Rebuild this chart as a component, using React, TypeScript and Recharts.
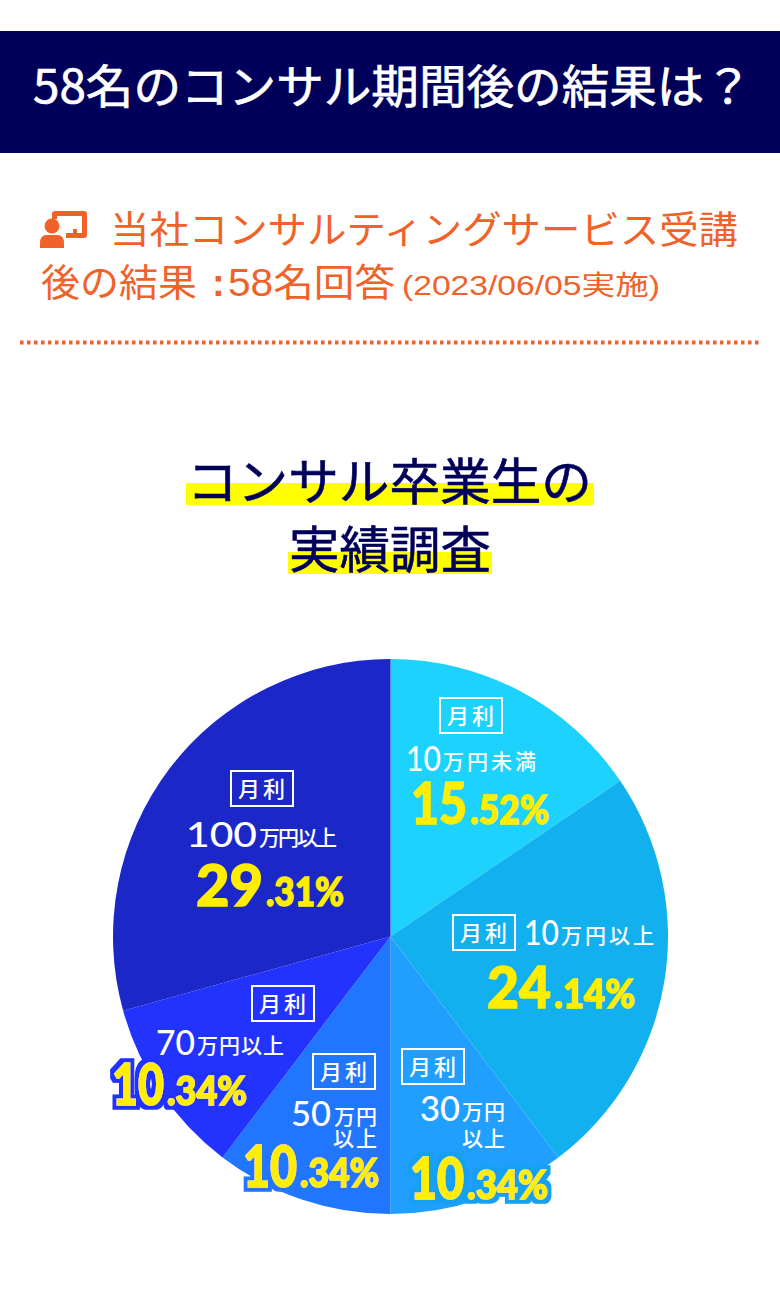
import React from "react";
import { PieChart, Pie, Cell } from "recharts";

const CATEGORIES = ["10万円未満", "10万円以上", "30万円以上", "50万円以上", "70万円以上", "100万円以上"];
const SHARES = [15.52, 24.14, 10.34, 10.34, 10.34, 29.31];
const COLORS = ["#1DD2FD", "#12B0EF", "#209FFF", "#2176FE", "#2333FE", "#1C27C8"];
const AMOUNT_NUMBERS = ["10", "10", "30", "50", "70", "100"];
const AMOUNT_UNITS = ["万円未満", "万円以上", "万円", "万円", "万円以上", "万円以上"];
const AMOUNT_SECOND = ["", "", "以上", "以上", "", ""];
const OUTLINES = ["none", "none", "#12A0F0", "#2176FE", "#2333FE", "none"];

const JP = "'Noto Sans CJK JP', sans-serif";
const MIX = "'Liberation Sans', 'Noto Sans CJK JP', sans-serif";
const NUM = "Lato, Inter, sans-serif";
const ORANGE = "#F0622A";
const NAVY = "#00005A";
const YELLOW = "#FFEE00";

const pieData = CATEGORIES.map((name, i) => ({ name, value: SHARES[i] }));

const LAYOUT = [
  { box: [440, 698], num: [406, 771, 441], unit: [443, 536], second: null, pct: [411, 824, 549, 56] },
  { box: [453, 915], num: [524, 945, 559], unit: [561, 654], second: null, pct: [487, 1008, 635, 64] },
  { box: [402, 1049], num: [420, 1121, 460], unit: [462, 505], second: [462, 505, 1146], pct: [410, 1199, 548, 54] },
  { box: [313, 1054], num: [291, 1126, 331], unit: [334, 377], second: [333, 377, 1146], pct: [243, 1187, 379, 54] },
  { box: [252, 986], num: [156, 1055, 195], unit: [197, 284], second: null, pct: [112, 1105, 247, 52] },
  { box: [231, 771], num: [186, 847, 257], unit: [259, 337], second: null, pct: [196, 906, 344, 67] },
];

function Label({ i }: { i: number }) {
  const l = LAYOUT[i];
  const [whole, frac] = SHARES[i].toFixed(2).split(".");
  const bigW = l.pct[3];
  const outline = OUTLINES[i];
  const filter = outline === "none" ? undefined : `url(#outline-${i})`;
  return (
    <g>
      {outline !== "none" && (
        <filter id={`outline-${i}`} x="-20%" y="-20%" width="140%" height="140%">
          <feMorphology in="SourceAlpha" operator="dilate" radius={4} result="wide" />
          <feFlood floodColor={outline} />
          <feComposite in2="wide" operator="in" result="edge" />
          <feMerge>
            <feMergeNode in="edge" />
            <feMergeNode in="SourceGraphic" />
          </feMerge>
        </filter>
      )}
      <rect x={l.box[0]} y={l.box[1]} width={62} height={35} fill="none" stroke="#fff" strokeWidth={2} />
      <text x={l.box[0] + 32} y={l.box[1] + 26} textAnchor="middle" fontFamily={JP} fontSize={22} fontWeight={500} letterSpacing={3} fill="#fff">
        月利
      </text>
      <text x={l.num[0]} y={l.num[1]} fontFamily={NUM} fontSize={34} fontWeight={500} fill="#fff"
        textLength={l.num[2] - l.num[0]} lengthAdjust="spacingAndGlyphs">
        {AMOUNT_NUMBERS[i]}
      </text>
      <text x={l.unit[0]} y={l.num[1] - 2} fontFamily={JP} fontSize={21} fontWeight={500} fill="#fff"
        textLength={l.unit[1] - l.unit[0]} lengthAdjust="spacing">
        {AMOUNT_UNITS[i]}
      </text>
      {l.second && (
        <text x={l.second[0]} y={l.second[2]} fontFamily={JP} fontSize={21} fontWeight={500} fill="#fff"
          textLength={l.second[1] - l.second[0]} lengthAdjust="spacing">
          {AMOUNT_SECOND[i]}
        </text>
      )}
      <g filter={filter}>
        <text x={l.pct[0]} y={l.pct[1]} fontFamily={NUM} fontSize={58} fontWeight={900} fill={YELLOW} stroke={YELLOW} strokeWidth={1.4}
          textLength={bigW} lengthAdjust="spacingAndGlyphs">
          {whole}
        </text>
        <text x={l.pct[0] + bigW + 3} y={l.pct[1]} fontFamily={NUM} fontSize={40} fontWeight={900} fill={YELLOW} stroke={YELLOW} strokeWidth={1.4}
          textLength={l.pct[2] - l.pct[0] - bigW - 3} lengthAdjust="spacingAndGlyphs">
          {`.${frac}%`}
        </text>
      </g>
    </g>
  );
}

export default function App() {
  return (
    <div style={{ position: "absolute", left: 0, top: 0, width: 780, height: 1295, background: "#fff", overflow: "hidden" }}>
      <div style={{ position: "absolute", left: 0, top: 0 }}>
        <PieChart width={780} height={1295} margin={{ top: 0, right: 0, bottom: 0, left: 0 }}>
          <Pie
            data={pieData}
            dataKey="value"
            nameKey="name"
            cx={390.5}
            cy={936.5}
            outerRadius={277.5}
            innerRadius={0}
            startAngle={90}
            endAngle={-270}
            stroke="none"
            isAnimationActive={false}
            label={false}
            labelLine={false}
          >
            {pieData.map((d, i) => (
              <Cell key={d.name} fill={COLORS[i]} />
            ))}
          </Pie>
        </PieChart>
      </div>
      <svg width={780} height={1295} style={{ position: "absolute", left: 0, top: 0 }}>
        <rect x={0} y={31} width={780} height={122} fill={NAVY} />
        <text x={33} y={103} fontFamily={JP} fontSize={46} stroke="#fff" strokeWidth={0.7} fill="#fff" textLength={719} lengthAdjust="spacingAndGlyphs">
          58名のコンサル期間後の結果は？
        </text>

        <g fill={ORANGE}>
          <path d="M55 211 H84 Q87 211 87 214 V235 Q87 238 84 238 H66 V233 H73 V229 H77 V233 H82 V216 H57 V219 H52 V214 Q52 211 55 211 Z" />
          <circle cx={52} cy={226} r={7.5} />
          <path d="M40 248 V243 Q40 235 47 235 H57 Q64 235 64 243 V248 Z" />
        </g>
        <text x={110} y={243} fontFamily={JP} fontSize={38} fill={ORANGE} textLength={628} lengthAdjust="spacingAndGlyphs">
          当社コンサルティングサービス受講
        </text>
        <text x={41} y={296} fontFamily={JP} fontSize={38} fill={ORANGE} textLength={156} lengthAdjust="spacingAndGlyphs">
          後の結果
        </text>
        <text x={212} y={296} fontFamily={MIX} fontSize={38} fontWeight={700} fill={ORANGE}>
          :
        </text>
        <text x={228} y={296} fontFamily={MIX} fontSize={38} fill={ORANGE} textLength={167} lengthAdjust="spacingAndGlyphs">
          58名回答
        </text>
        <text x={402} y={295} fontFamily={MIX} fontSize={27} fill={ORANGE} textLength={258} lengthAdjust="spacingAndGlyphs">
          (2023/06/05実施)
        </text>
        <line x1={20} y1={342.5} x2={760} y2={342.5} stroke={ORANGE} strokeWidth={4} strokeDasharray="3.5 3.5" />

        <rect x={186} y={483} width={408} height={22} fill="#FFFF00" />
        <rect x={288} y={552} width={204} height={22} fill="#FFFF00" />
        <text x={187} y={500} fontFamily={JP} fontSize={50} stroke={NAVY} strokeWidth={0.6} fill={NAVY} textLength={405} lengthAdjust="spacingAndGlyphs">
          コンサル卒業生の
        </text>
        <text x={289} y={568} fontFamily={JP} fontSize={50} stroke={NAVY} strokeWidth={0.6} fill={NAVY} textLength={202} lengthAdjust="spacingAndGlyphs">
          実績調査
        </text>

        {CATEGORIES.map((c, i) => (
          <Label key={c} i={i} />
        ))}
      </svg>
    </div>
  );
}
